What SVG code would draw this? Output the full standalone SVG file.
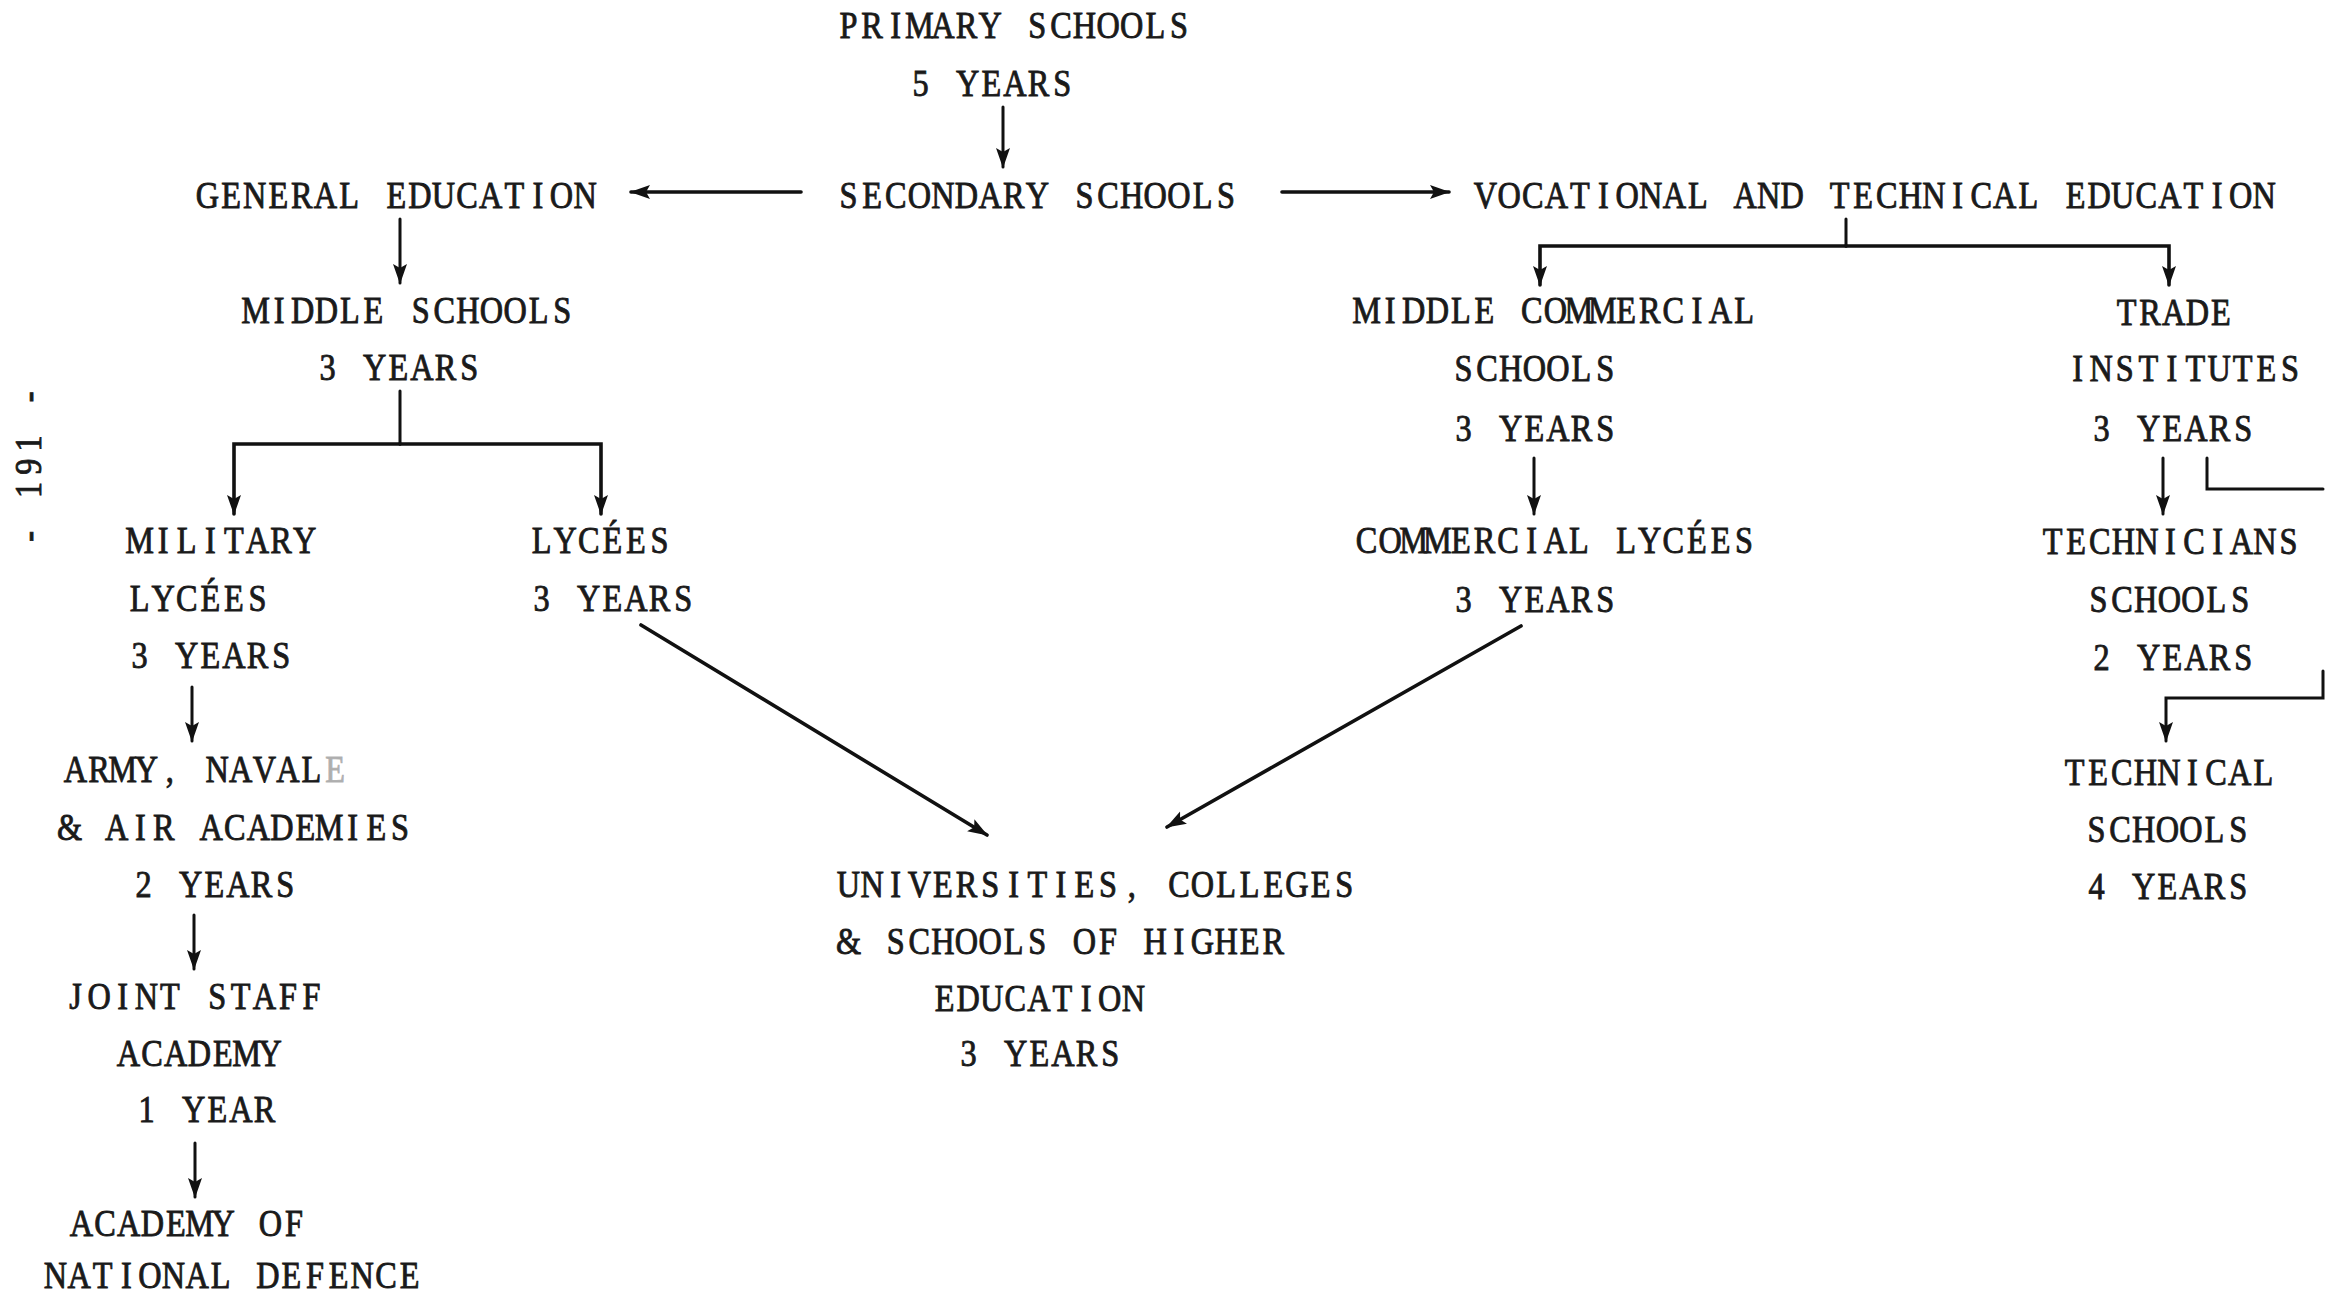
<svg xmlns="http://www.w3.org/2000/svg" width="2338" height="1297" viewBox="0 0 2338 1297">
<defs>
<style>
text{font-family:"Liberation Serif","Times New Roman",serif;font-size:38px;text-anchor:middle;fill:#1a1a1a;stroke:#1a1a1a;stroke-width:0.9}
.c{fill:none;stroke:#111;stroke-width:3;stroke-linecap:round}
.t{stroke-width:3.6}
.f{opacity:0.35}
</style>
<marker id="ah" markerUnits="userSpaceOnUse" markerWidth="20" markerHeight="16" viewBox="0 0 20 16" refX="19" refY="8" orient="auto">
<path d="M0,1 L20,8 L0,15 L4,8 Z" fill="#111"/>
</marker>
</defs>
<rect width="2338" height="1297" fill="#fff"/>
<g id="page-number"><text transform="translate(41,546) rotate(-90) scale(.85,1)" x="11.2 38.6 66 93.4 120.8 148.2 175.6">- 191 -</text></g>
<g id="primary">
<text transform="translate(839,38) scale(.85,1)" x="11.2 38.9 66.7 94.5 122.2 150 177.8 205.5 233.3 261.1 288.8 316.6 344.4 372.1 399.9 427.7 455.4 483.2 511 538.7 566.5 594.3 622 649.8 677.5 705.3 733.1 760.8 788.6 816.4 844.1 871.9 899.7 927.4">PRIMARY SCHOOLS</text>
<text transform="translate(911,96) scale(.85,1)" x="11.2 38.9 66.7 94.5 122.2 150 177.8 205.5 233.3 261.1 288.8 316.6 344.4 372.1 399.9 427.7 455.4 483.2 511 538.7 566.5 594.3 622 649.8 677.5 705.3 733.1 760.8 788.6 816.4 844.1 871.9 899.7 927.4">5 YEARS</text>
</g>
<g id="secondary">
<text transform="translate(839,208) scale(.85,1)" x="11.2 38.9 66.7 94.5 122.2 150 177.8 205.5 233.3 261.1 288.8 316.6 344.4 372.1 399.9 427.7 455.4 483.2 511 538.7 566.5 594.3 622 649.8 677.5 705.3 733.1 760.8 788.6 816.4 844.1 871.9 899.7 927.4">SECONDARY SCHOOLS</text>
</g>
<g id="general">
<text transform="translate(198,208) scale(.85,1)" x="11.2 38.9 66.7 94.5 122.2 150 177.8 205.5 233.3 261.1 288.8 316.6 344.4 372.1 399.9 427.7 455.4 483.2 511 538.7 566.5 594.3 622 649.8 677.5 705.3 733.1 760.8 788.6 816.4 844.1 871.9 899.7 927.4">GENERAL EDUCATION</text>
</g>
<g id="vocational">
<text transform="translate(1476,208) scale(.85,1)" x="11.2 38.9 66.7 94.5 122.2 150 177.8 205.5 233.3 261.1 288.8 316.6 344.4 372.1 399.9 427.7 455.4 483.2 511 538.7 566.5 594.3 622 649.8 677.5 705.3 733.1 760.8 788.6 816.4 844.1 871.9 899.7 927.4">VOCATIONAL AND TECHNICAL EDUCATION</text>
</g>
<g id="middle-schools">
<text transform="translate(246,323) scale(.85,1)" x="11.2 38.9 66.7 94.5 122.2 150 177.8 205.5 233.3 261.1 288.8 316.6 344.4 372.1 399.9 427.7 455.4 483.2 511 538.7 566.5 594.3 622 649.8 677.5 705.3 733.1 760.8 788.6 816.4 844.1 871.9 899.7 927.4">MIDDLE SCHOOLS</text>
<text transform="translate(318,380) scale(.85,1)" x="11.2 38.9 66.7 94.5 122.2 150 177.8 205.5 233.3 261.1 288.8 316.6 344.4 372.1 399.9 427.7 455.4 483.2 511 538.7 566.5 594.3 622 649.8 677.5 705.3 733.1 760.8 788.6 816.4 844.1 871.9 899.7 927.4">3 YEARS</text>
</g>
<g id="military-lycees">
<text transform="translate(130,553) scale(.85,1)" x="11.2 38.9 66.7 94.5 122.2 150 177.8 205.5 233.3 261.1 288.8 316.6 344.4 372.1 399.9 427.7 455.4 483.2 511 538.7 566.5 594.3 622 649.8 677.5 705.3 733.1 760.8 788.6 816.4 844.1 871.9 899.7 927.4">MILITARY</text>
<text transform="translate(130,611) scale(.85,1)" x="11.2 38.9 66.7 94.5 122.2 150 177.8 205.5 233.3 261.1 288.8 316.6 344.4 372.1 399.9 427.7 455.4 483.2 511 538.7 566.5 594.3 622 649.8 677.5 705.3 733.1 760.8 788.6 816.4 844.1 871.9 899.7 927.4">LYCÉES</text>
<text transform="translate(130,668) scale(.85,1)" x="11.2 38.9 66.7 94.5 122.2 150 177.8 205.5 233.3 261.1 288.8 316.6 344.4 372.1 399.9 427.7 455.4 483.2 511 538.7 566.5 594.3 622 649.8 677.5 705.3 733.1 760.8 788.6 816.4 844.1 871.9 899.7 927.4">3 YEARS</text>
</g>
<g id="academies">
<text transform="translate(66,782) scale(.85,1)" x="11.2 38.9 66.7 94.5 122.2 150 177.8 205.5 233.3 261.1 288.8 316.6 344.4 372.1 399.9 427.7 455.4 483.2 511 538.7 566.5 594.3 622 649.8 677.5 705.3 733.1 760.8 788.6 816.4 844.1 871.9 899.7 927.4">ARMY, NAVAL</text>
<text class="f" transform="translate(66,782) scale(.85,1)" x="316.6">E</text>
<text transform="translate(60,840) scale(.85,1)" x="11.2 38.9 66.7 94.5 122.2 150 177.8 205.5 233.3 261.1 288.8 316.6 344.4 372.1 399.9 427.7 455.4 483.2 511 538.7 566.5 594.3 622 649.8 677.5 705.3 733.1 760.8 788.6 816.4 844.1 871.9 899.7 927.4">&amp; AIR ACADEMIES</text>
<text transform="translate(134,897) scale(.85,1)" x="11.2 38.9 66.7 94.5 122.2 150 177.8 205.5 233.3 261.1 288.8 316.6 344.4 372.1 399.9 427.7 455.4 483.2 511 538.7 566.5 594.3 622 649.8 677.5 705.3 733.1 760.8 788.6 816.4 844.1 871.9 899.7 927.4">2 YEARS</text>
</g>
<g id="joint-staff">
<text transform="translate(66,1009) scale(.85,1)" x="11.2 38.9 66.7 94.5 122.2 150 177.8 205.5 233.3 261.1 288.8 316.6 344.4 372.1 399.9 427.7 455.4 483.2 511 538.7 566.5 594.3 622 649.8 677.5 705.3 733.1 760.8 788.6 816.4 844.1 871.9 899.7 927.4">JOINT STAFF</text>
<text transform="translate(119,1066) scale(.85,1)" x="11.2 38.9 66.7 94.5 122.2 150 177.8 205.5 233.3 261.1 288.8 316.6 344.4 372.1 399.9 427.7 455.4 483.2 511 538.7 566.5 594.3 622 649.8 677.5 705.3 733.1 760.8 788.6 816.4 844.1 871.9 899.7 927.4">ACADEMY</text>
<text transform="translate(137,1122) scale(.85,1)" x="11.2 38.9 66.7 94.5 122.2 150 177.8 205.5 233.3 261.1 288.8 316.6 344.4 372.1 399.9 427.7 455.4 483.2 511 538.7 566.5 594.3 622 649.8 677.5 705.3 733.1 760.8 788.6 816.4 844.1 871.9 899.7 927.4">1 YEAR</text>
</g>
<g id="national-defence">
<text transform="translate(72,1236) scale(.85,1)" x="11.2 38.9 66.7 94.5 122.2 150 177.8 205.5 233.3 261.1 288.8 316.6 344.4 372.1 399.9 427.7 455.4 483.2 511 538.7 566.5 594.3 622 649.8 677.5 705.3 733.1 760.8 788.6 816.4 844.1 871.9 899.7 927.4">ACADEMY OF</text>
<text transform="translate(46,1288) scale(.85,1)" x="11.2 38.9 66.7 94.5 122.2 150 177.8 205.5 233.3 261.1 288.8 316.6 344.4 372.1 399.9 427.7 455.4 483.2 511 538.7 566.5 594.3 622 649.8 677.5 705.3 733.1 760.8 788.6 816.4 844.1 871.9 899.7 927.4">NATIONAL DEFENCE</text>
</g>
<g id="lycees">
<text transform="translate(532,553) scale(.85,1)" x="11.2 38.9 66.7 94.5 122.2 150 177.8 205.5 233.3 261.1 288.8 316.6 344.4 372.1 399.9 427.7 455.4 483.2 511 538.7 566.5 594.3 622 649.8 677.5 705.3 733.1 760.8 788.6 816.4 844.1 871.9 899.7 927.4">LYCÉES</text>
<text transform="translate(532,611) scale(.85,1)" x="11.2 38.9 66.7 94.5 122.2 150 177.8 205.5 233.3 261.1 288.8 316.6 344.4 372.1 399.9 427.7 455.4 483.2 511 538.7 566.5 594.3 622 649.8 677.5 705.3 733.1 760.8 788.6 816.4 844.1 871.9 899.7 927.4">3 YEARS</text>
</g>
<g id="universities">
<text transform="translate(839,897) scale(.85,1)" x="11.2 38.9 66.7 94.5 122.2 150 177.8 205.5 233.3 261.1 288.8 316.6 344.4 372.1 399.9 427.7 455.4 483.2 511 538.7 566.5 594.3 622 649.8 677.5 705.3 733.1 760.8 788.6 816.4 844.1 871.9 899.7 927.4">UNIVERSITIES, COLLEGES</text>
<text transform="translate(839,954) scale(.85,1)" x="11.2 38.9 66.7 94.5 122.2 150 177.8 205.5 233.3 261.1 288.8 316.6 344.4 372.1 399.9 427.7 455.4 483.2 511 538.7 566.5 594.3 622 649.8 677.5 705.3 733.1 760.8 788.6 816.4 844.1 871.9 899.7 927.4">&amp; SCHOOLS OF HIGHER</text>
<text transform="translate(935,1011) scale(.85,1)" x="11.2 38.9 66.7 94.5 122.2 150 177.8 205.5 233.3 261.1 288.8 316.6 344.4 372.1 399.9 427.7 455.4 483.2 511 538.7 566.5 594.3 622 649.8 677.5 705.3 733.1 760.8 788.6 816.4 844.1 871.9 899.7 927.4">EDUCATION</text>
<text transform="translate(959,1066) scale(.85,1)" x="11.2 38.9 66.7 94.5 122.2 150 177.8 205.5 233.3 261.1 288.8 316.6 344.4 372.1 399.9 427.7 455.4 483.2 511 538.7 566.5 594.3 622 649.8 677.5 705.3 733.1 760.8 788.6 816.4 844.1 871.9 899.7 927.4">3 YEARS</text>
</g>
<g id="middle-commercial">
<text transform="translate(1357,323) scale(.85,1)" x="11.2 38.9 66.7 94.5 122.2 150 177.8 205.5 233.3 261.1 288.8 316.6 344.4 372.1 399.9 427.7 455.4 483.2 511 538.7 566.5 594.3 622 649.8 677.5 705.3 733.1 760.8 788.6 816.4 844.1 871.9 899.7 927.4">MIDDLE COMMERCIAL</text>
<text transform="translate(1454,381) scale(.85,1)" x="11.2 38.9 66.7 94.5 122.2 150 177.8 205.5 233.3 261.1 288.8 316.6 344.4 372.1 399.9 427.7 455.4 483.2 511 538.7 566.5 594.3 622 649.8 677.5 705.3 733.1 760.8 788.6 816.4 844.1 871.9 899.7 927.4">SCHOOLS</text>
<text transform="translate(1454,441) scale(.85,1)" x="11.2 38.9 66.7 94.5 122.2 150 177.8 205.5 233.3 261.1 288.8 316.6 344.4 372.1 399.9 427.7 455.4 483.2 511 538.7 566.5 594.3 622 649.8 677.5 705.3 733.1 760.8 788.6 816.4 844.1 871.9 899.7 927.4">3 YEARS</text>
</g>
<g id="commercial-lycees">
<text transform="translate(1357,553) scale(.85,1)" x="11.2 38.9 66.7 94.5 122.2 150 177.8 205.5 233.3 261.1 288.8 316.6 344.4 372.1 399.9 427.7 455.4 483.2 511 538.7 566.5 594.3 622 649.8 677.5 705.3 733.1 760.8 788.6 816.4 844.1 871.9 899.7 927.4">COMMERCIAL LYCÉES</text>
<text transform="translate(1454,612) scale(.85,1)" x="11.2 38.9 66.7 94.5 122.2 150 177.8 205.5 233.3 261.1 288.8 316.6 344.4 372.1 399.9 427.7 455.4 483.2 511 538.7 566.5 594.3 622 649.8 677.5 705.3 733.1 760.8 788.6 816.4 844.1 871.9 899.7 927.4">3 YEARS</text>
</g>
<g id="trade">
<text transform="translate(2117,325) scale(.85,1)" x="11.2 38.9 66.7 94.5 122.2 150 177.8 205.5 233.3 261.1 288.8 316.6 344.4 372.1 399.9 427.7 455.4 483.2 511 538.7 566.5 594.3 622 649.8 677.5 705.3 733.1 760.8 788.6 816.4 844.1 871.9 899.7 927.4">TRADE</text>
<text transform="translate(2068,381) scale(.85,1)" x="11.2 38.9 66.7 94.5 122.2 150 177.8 205.5 233.3 261.1 288.8 316.6 344.4 372.1 399.9 427.7 455.4 483.2 511 538.7 566.5 594.3 622 649.8 677.5 705.3 733.1 760.8 788.6 816.4 844.1 871.9 899.7 927.4">INSTITUTES</text>
<text transform="translate(2092,441) scale(.85,1)" x="11.2 38.9 66.7 94.5 122.2 150 177.8 205.5 233.3 261.1 288.8 316.6 344.4 372.1 399.9 427.7 455.4 483.2 511 538.7 566.5 594.3 622 649.8 677.5 705.3 733.1 760.8 788.6 816.4 844.1 871.9 899.7 927.4">3 YEARS</text>
</g>
<g id="technicians">
<text transform="translate(2043,554) scale(.85,1)" x="11.2 38.9 66.7 94.5 122.2 150 177.8 205.5 233.3 261.1 288.8 316.6 344.4 372.1 399.9 427.7 455.4 483.2 511 538.7 566.5 594.3 622 649.8 677.5 705.3 733.1 760.8 788.6 816.4 844.1 871.9 899.7 927.4">TECHNICIANS</text>
<text transform="translate(2089,612) scale(.85,1)" x="11.2 38.9 66.7 94.5 122.2 150 177.8 205.5 233.3 261.1 288.8 316.6 344.4 372.1 399.9 427.7 455.4 483.2 511 538.7 566.5 594.3 622 649.8 677.5 705.3 733.1 760.8 788.6 816.4 844.1 871.9 899.7 927.4">SCHOOLS</text>
<text transform="translate(2092,670) scale(.85,1)" x="11.2 38.9 66.7 94.5 122.2 150 177.8 205.5 233.3 261.1 288.8 316.6 344.4 372.1 399.9 427.7 455.4 483.2 511 538.7 566.5 594.3 622 649.8 677.5 705.3 733.1 760.8 788.6 816.4 844.1 871.9 899.7 927.4">2 YEARS</text>
</g>
<g id="technical">
<text transform="translate(2065,785) scale(.85,1)" x="11.2 38.9 66.7 94.5 122.2 150 177.8 205.5 233.3 261.1 288.8 316.6 344.4 372.1 399.9 427.7 455.4 483.2 511 538.7 566.5 594.3 622 649.8 677.5 705.3 733.1 760.8 788.6 816.4 844.1 871.9 899.7 927.4">TECHNICAL</text>
<text transform="translate(2087,842) scale(.85,1)" x="11.2 38.9 66.7 94.5 122.2 150 177.8 205.5 233.3 261.1 288.8 316.6 344.4 372.1 399.9 427.7 455.4 483.2 511 538.7 566.5 594.3 622 649.8 677.5 705.3 733.1 760.8 788.6 816.4 844.1 871.9 899.7 927.4">SCHOOLS</text>
<text transform="translate(2087,899) scale(.85,1)" x="11.2 38.9 66.7 94.5 122.2 150 177.8 205.5 233.3 261.1 288.8 316.6 344.4 372.1 399.9 427.7 455.4 483.2 511 538.7 566.5 594.3 622 649.8 677.5 705.3 733.1 760.8 788.6 816.4 844.1 871.9 899.7 927.4">4 YEARS</text>
</g>
<g id="connectors">
<path class="c" d="M1003,107 V167" marker-end="url(#ah)"/>
<path class="c t" d="M801,192 H631" marker-end="url(#ah)"/>
<path class="c t" d="M1282,192 H1449" marker-end="url(#ah)"/>
<path class="c" d="M1846,219 V246"/>
<path class="c t" d="M1846,246 H1540 V285" marker-end="url(#ah)"/>
<path class="c t" d="M1846,246 H2169 V285" marker-end="url(#ah)"/>
<path class="c" d="M400,219 V283" marker-end="url(#ah)"/>
<path class="c" d="M400,391 V444"/>
<path class="c t" d="M400,444 H234 V514" marker-end="url(#ah)"/>
<path class="c t" d="M400,444 H601 V514" marker-end="url(#ah)"/>
<path class="c" d="M192,687 V741" marker-end="url(#ah)"/>
<path class="c" d="M194,915 V969" marker-end="url(#ah)"/>
<path class="c" d="M195,1143 V1197" marker-end="url(#ah)"/>
<path class="c t" d="M641,625 L987,835" marker-end="url(#ah)"/>
<path class="c t" d="M1521,626 L1167,827" marker-end="url(#ah)"/>
<path class="c" d="M1534,458 V514" marker-end="url(#ah)"/>
<path class="c" d="M2163,458 V514" marker-end="url(#ah)"/>
<path class="c" d="M2207,458 V489 H2323"/>
<path class="c" d="M2323,671 V698 H2166 V741" marker-end="url(#ah)"/>
</g>
</svg>
